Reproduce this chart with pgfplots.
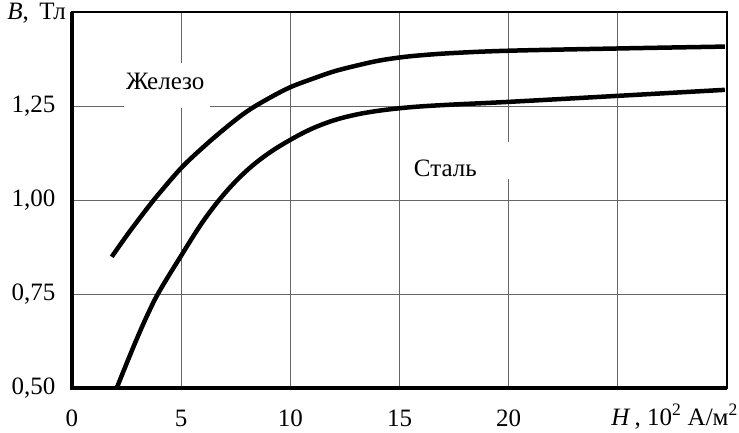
\documentclass[border=0pt]{standalone}
\usepackage{fontspec}
\setmainfont{Liberation Serif}
\usepackage{pgfplots}
\pgfplotsset{compat=1.18}
\newcommand{\fs}{\fontsize{25}{29}\selectfont}
\begin{document}
\begin{tikzpicture}[x=1pt,y=1pt]
\path[use as bounding box] (0,0) rectangle (739,432);
\begin{axis}[
  at={(72pt,44pt)}, anchor=south west,
  scale only axis, width=655pt, height=376pt,
  xmin=0, xmax=30, ymin=0.5, ymax=1.5,
  xtick={0,5,10,15,20,25,30},
  xticklabels={0,5,10,15,20,,},
  ytick={0.5,0.75,1,1.25,1.5},
  yticklabels={0{,}50,0{,}75,1{,}00,1{,}25,},
  major tick length=0pt,
  grid=major,
  grid style={gray!80!black, line width=0.9pt},
  axis line style={line width=1.2pt},
  xticklabel style={anchor=base, yshift=-38pt, font=\fs},
  yticklabel style={anchor=east, xshift=-13pt, font=\fs},
  clip=false,
]
\fill[white] (axis cs:2.4,1.245) rectangle (axis cs:6.3,1.365);
\node[font=\fs] at (axis cs:4.27,1.314) {Железо};
\fill[white] (axis cs:15.3,1.055) rectangle (axis cs:20.2,1.155);
\node[font=\fs] at (axis cs:17.1,1.085) {Сталь};
\draw[line width=4.5pt] (axis cs:0,1.5) -- (axis cs:0,0.5) -- (axis cs:30,0.5);
\addplot[line width=4.5pt, smooth, tension=0.6] coordinates {
 (1.82,0.849) (2.5,0.905) (3,0.944) (3.5,0.982) (4,1.018) (5,1.085)
 (6,1.14) (7,1.19) (8,1.235) (9,1.27) (10,1.30) (11,1.322) (12,1.342)
 (13,1.357) (14,1.370) (15,1.379) (16,1.385) (17.5,1.391) (20,1.397) (25,1.403) (29.9,1.408)
};
\addplot[line width=4.5pt, smooth, tension=0.6] coordinates {
 (2.05,0.50) (2.5,0.565) (3,0.635) (3.5,0.70) (4,0.757) (5,0.852) (6,0.943)
 (7,1.018) (8,1.078) (9,1.124) (10,1.16) (11,1.19) (12,1.212) (13,1.227)
 (14,1.237) (15,1.244) (16,1.249) (17.5,1.254) (20,1.261) (25,1.277) (29.9,1.293)
};
\end{axis}
\node[anchor=base east, font=\fs, inner sep=0pt] at (66,412) {\textit{B},\, Тл};
\node[anchor=base east, font=\fs, inner sep=0pt] at (738,7) {\textit{H}\,, 10\textsuperscript{2} А/м\textsuperscript{2}};
\end{tikzpicture}
\end{document}
